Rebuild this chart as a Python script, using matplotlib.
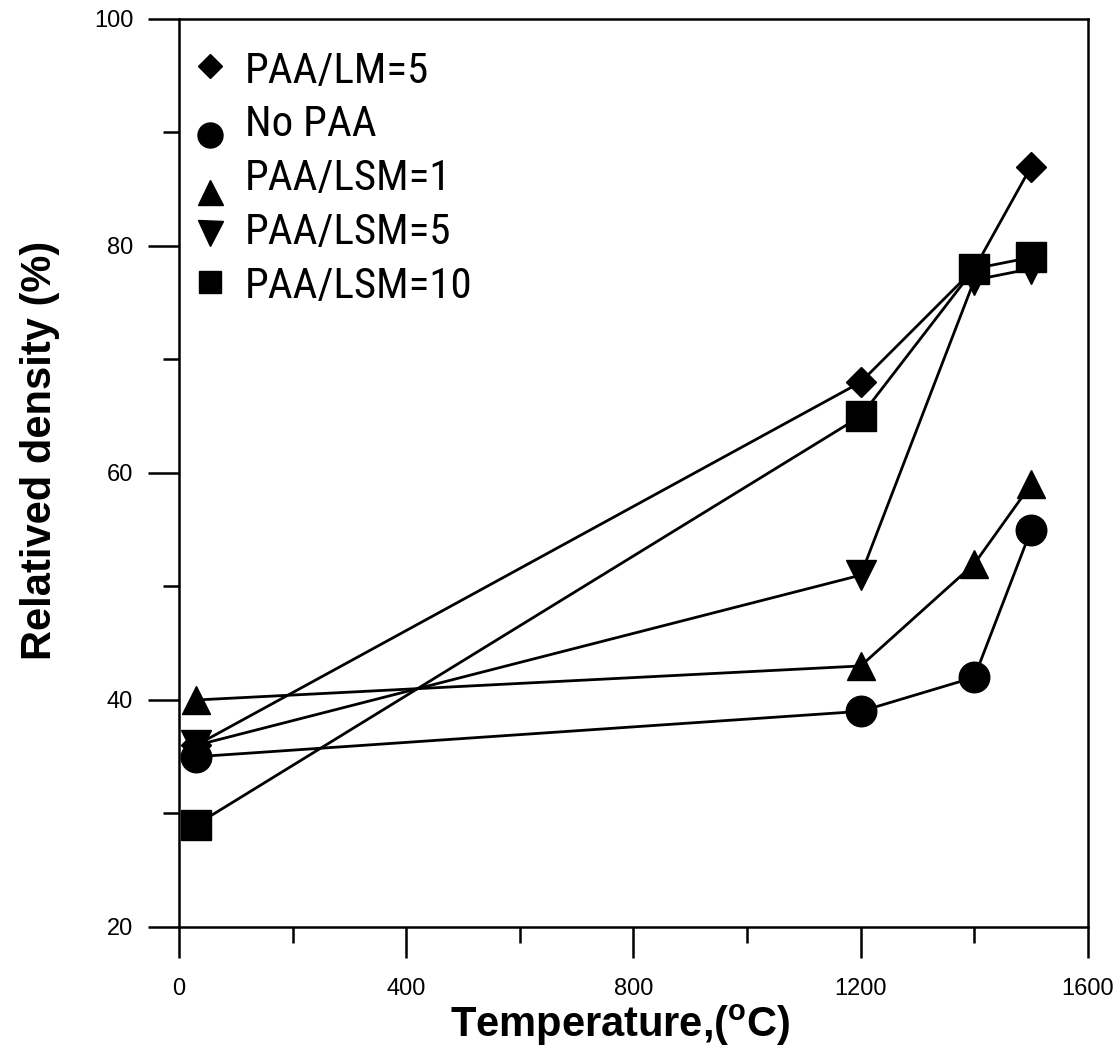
import matplotlib
matplotlib.use("Agg")
import matplotlib.pyplot as plt
from matplotlib import font_manager as fm
from matplotlib.lines import Line2D
from matplotlib.legend_handler import HandlerLine2D

temps = [30, 1200, 1400, 1500]
labels = ["PAA/LM=5", "No PAA", "PAA/LSM=1", "PAA/LSM=5", "PAA/LSM=10"]
paa_lm5 = [36, 68, 78, 87]
no_paa = [35, 39, 42, 55]
paa_lsm1 = [40, 43, 52, 59]
paa_lsm5 = [36, 51, 77, 78]
paa_lsm10 = [29, 65, 78, 79]
xticks = [0, 400, 800, 1200, 1600]
yticks = [20, 40, 60, 80, 100]

names = {f.name for f in fm.fontManager.ttflist}
base = "Liberation Sans" if "Liberation Sans" in names else "DejaVu Sans"
narrow = base
for cand in ("Liberation Sans Narrow", "Roboto Condensed", "PT Sans Narrow"):
    if cand in names:
        narrow = cand
        break
plt.rcParams['font.family'] = [base, 'DejaVu Sans']
plt.rcParams['mathtext.fontset'] = 'custom'
plt.rcParams['mathtext.bf'] = base + ':bold'
plt.rcParams['mathtext.rm'] = base

fig = plt.figure(figsize=(11.2, 10.61), dpi=100)
ax = fig.add_axes([0.1598, 0.1263, 0.8116, 0.8558])

series = [paa_lm5, no_paa, paa_lsm1, paa_lsm5, paa_lsm10]
markers = ['D', 'o', '^', 'v', 's']
sizes = [15, 22, 20, 21, 22]
for ys, m, s, lab in zip(series, markers, sizes, labels):
    ax.plot(temps, ys, color='black', lw=2, marker=m, markersize=s,
            markerfacecolor='black', markeredgecolor='black', label=lab, clip_on=False)

ax.set_xlim(0, 1600)
ax.set_ylim(20, 100)
ax.set_xticks(xticks)
ax.set_yticks(yticks)
ax.set_xticks([200, 600, 1000, 1400], minor=True)
ax.set_yticks([30, 50, 70, 90], minor=True)
ax.tick_params(which='major', direction='out', length=22, width=1.8, labelsize=17)
ax.tick_params(which='minor', direction='out', length=11.5, width=1.8)
ax.tick_params(axis='x', which='major', pad=15)
ax.tick_params(axis='y', which='major', pad=11)
for sp in ax.spines.values():
    sp.set_linewidth(1.8)

ax.set_xlabel(r"Temperature,($\mathbf{^{o}}$C)", fontsize=30, fontweight='bold')
ax.xaxis.set_label_coords(0.486, -0.083)
ax.set_ylabel("Relatived density (%)", fontsize=30, fontweight='bold')
ax.yaxis.set_label_coords(-0.131, 0.525)


class ShiftedHandler(HandlerLine2D):
    def __init__(self, dy, **kw):
        super().__init__(**kw)
        self.dy = dy

    def create_artists(self, legend, orig_handle, xdescent, ydescent, width, height, fontsize, trans):
        arts = super().create_artists(legend, orig_handle, xdescent, ydescent, width, height, fontsize, trans)
        for a in arts:
            a.set_ydata([y - self.dy for y in a.get_ydata()])
        return arts


lsizes = [12.5, 18, 18, 18, 16.5]
shifts = [-1, 10, 12, 3, -1]
hs = [Line2D([], [], ls='none', marker=m, markersize=s, color='black') for m, s in zip(markers, lsizes)]
leg = ax.legend(hs, labels, loc='upper left', frameon=False, prop={'family': narrow, 'size': 31},
                handlelength=0.85, handletextpad=0.38, labelspacing=0.3, borderpad=0,
                borderaxespad=0.3, bbox_to_anchor=(0.0, 0.9795),
                handler_map={h: ShiftedHandler(dy=d) for h, d in zip(hs, shifts)})

fig.savefig("out.png", dpi=100)
